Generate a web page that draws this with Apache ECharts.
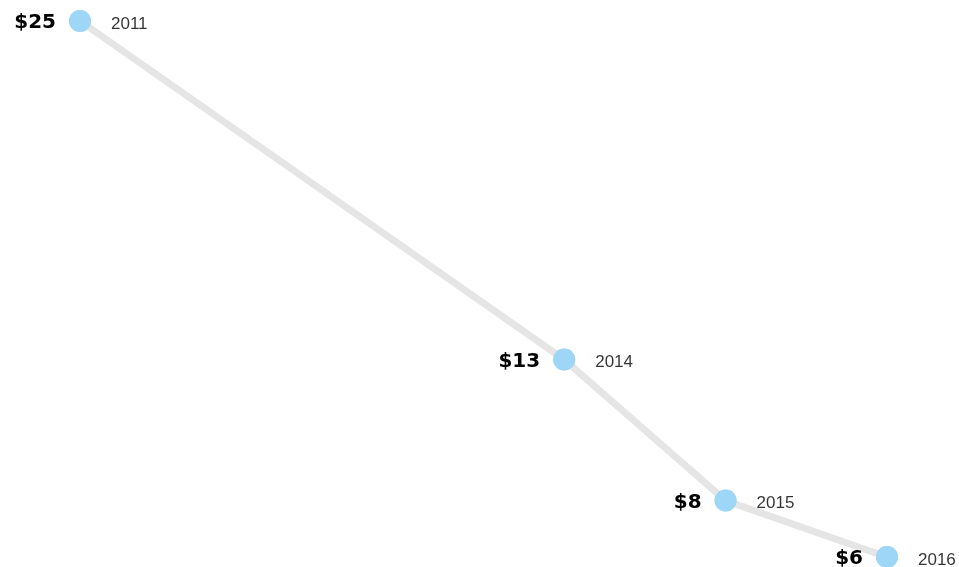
<!DOCTYPE html>
<html>
<head>
<meta charset="utf-8">
<script src="https://cdn.jsdelivr.net/npm/echarts@6/dist/echarts.min.js"></script>
<style>
  html, body { margin: 0; padding: 0; background: #fff; }
  #chart { width: 959px; height: 567px; }
</style>
</head>
<body>
<div id="chart"></div>
<script>
// Price per year
var years = [2011, 2014, 2015, 2016];
var prices = [25, 13, 8, 6];

var points = years.map(function (y, i) { return [y, prices[i]]; });

var chart = echarts.init(document.getElementById('chart'));
chart.setOption({
  animation: false,
  grid: { left: 80, right: 72, top: 21, bottom: 10 },
  xAxis: { type: 'value', min: 2011, max: 2016, show: false },
  yAxis: { type: 'value', min: 6, max: 25, show: false },
  series: [
    {
      type: 'line',
      data: points,
      clip: false,
      lineStyle: { color: '#e5e5e5', width: 7 },
      symbol: 'circle',
      symbolSize: 22,
      itemStyle: { color: '#9dd6f6' },
      z: 2,
      label: {
        show: true,
        position: 'left',
        distance: 13,
        offset: [0, 2],
        formatter: function (p) { return '$' + p.value[1]; },
        fontFamily: 'DejaVu Sans, sans-serif',
        fontWeight: 'bold',
        fontSize: 20,
        color: '#000'
      }
    },
    {
      type: 'scatter',
      data: points,
      clip: false,
      symbolSize: 22,
      itemStyle: { color: '#9dd6f6' },
      z: 3,
      label: {
        show: true,
        position: 'right',
        distance: 20,
        offset: [0, 3],
        formatter: function (p) { return String(p.value[0]); },
        fontFamily: 'Liberation Sans, Arial, sans-serif',
        fontSize: 17,
        color: '#000'
      }
    }
  ]
});
</script>
</body>
</html>
